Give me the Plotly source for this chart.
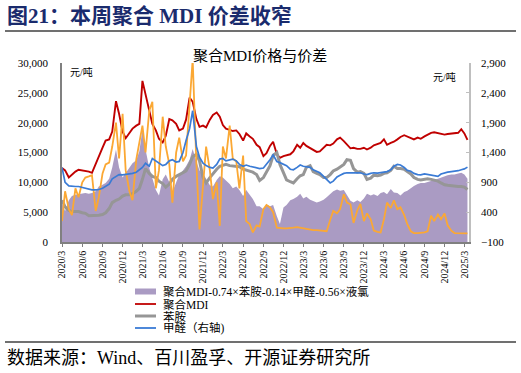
import pandas as pd
import plotly.graph_objects as go

# ---------------- data (semi-monthly readings, 2020-03 .. 2025-03) ----------------
dates = pd.date_range("2020-03-01", periods=122, freq="SMS")

mdi = [12400,12000,10800,11300,11800,12100,12000,11900,11800,11600,
       13200,14200,15800,17000,17200,18500,23600,21500,18500,17400,
       18200,19000,19500,19800,27000,24800,22000,19800,18700,17300,
       16700,17800,20600,20400,19800,18700,19000,20500,24200,23500,
       20600,19300,19500,19200,20500,21300,21700,21000,19600,19000,
       18800,18600,18700,18100,17000,18200,17700,17300,16300,15900,
       14400,14900,16100,16800,14700,14100,14400,14500,14700,15200,
       16300,15800,16600,16100,15700,15500,15100,15200,15900,16300,
       16200,16500,17200,17500,16900,16300,15700,15800,15600,15600,
       15800,15500,15800,16200,16400,16600,17200,16300,16600,16800,
       17200,17600,17900,17700,17500,17200,17500,17300,17700,18000,
       18300,18400,18300,18100,18000,18100,18200,18200,18300,18900,
       18200,17100]

aniline = [7000,5900,5300,5100,5100,5100,4900,4800,4400,4400,
           4400,4500,4600,4900,5600,6600,7000,7200,7700,7900,
           7900,8100,8500,9000,10500,12300,11500,11000,10800,10200,
           9800,9200,9700,10500,11000,11300,11600,11900,13000,14300,
           14700,13600,10800,9900,10800,11500,12200,12700,12900,13000,
           12800,12700,12600,12600,12200,12000,11900,11700,11300,10300,
           10800,11700,12800,14500,15000,13000,11500,10400,10100,9900,
           10600,11100,11300,12500,12800,11800,11500,11300,10800,10800,
           11300,11900,12200,12500,13000,13800,13700,12300,11700,11800,
           11500,10500,10700,11200,11100,11200,11500,11600,12000,12700,
           12300,12300,12200,11800,11400,10800,10500,10400,10500,10600,
           10500,10400,10200,9900,9600,9500,9400,9300,9300,9300,
           9200,8800]

formaldehyde = [1150,900,840,830,830,830,815,805,790,775,
                775,780,800,830,870,960,1000,1030,1025,1030,
                1040,1050,1070,1110,1150,1220,1170,1300,1260,1230,
                1180,1200,1260,1280,1240,1250,1400,1600,1800,2100,
                1500,1320,1220,1180,1150,1140,1200,1290,1300,1260,
                1280,1290,1260,1200,1170,1190,1170,1160,1140,1130,
                1140,1200,1280,1360,1250,1230,1210,1180,1120,1110,
                1150,1190,1170,1160,1150,1110,1090,1060,1000,950,
                890,920,990,1020,1050,1060,1060,1060,1070,1060,
                1040,1030,1050,1060,1055,1060,1070,1080,1110,1170,
                1200,1190,1150,1100,1085,1050,1030,1025,1040,1030,
                1015,1010,1000,1040,1060,1070,1080,1085,1095,1110,
                1125,1155]

chlorine = [250,750,450,350,800,650,900,980,1000,1020,
            420,650,1050,1200,1230,1500,1900,1300,2050,1100,
            750,600,1280,1550,1850,1400,2100,2250,800,1100,
            2000,1500,1200,560,1400,1650,1250,1350,2200,2960,
            1200,110,850,1500,1100,620,900,170,1500,1300,
            1850,1300,1250,800,1350,250,200,60,180,160,
            450,520,480,400,140,130,130,130,130,140,
            150,140,120,110,100,100,100,95,90,80,
            270,420,380,450,700,560,530,220,430,540,
            250,380,280,90,70,60,280,560,470,600,
            450,480,350,200,80,50,50,50,60,80,
            340,250,360,280,380,180,90,50,45,45,
            45,45]

spread = [6500,5200,7000,7700,7900,8000,8100,8200,8100,8200,
          8500,9300,9600,9900,10600,12500,15500,12500,10800,11500,
          12300,13200,13700,15200,18800,15500,12400,10800,8700,7800,
          10500,11300,10000,8400,10000,11300,12000,12700,13800,15600,
          13500,12000,11500,10600,9500,9300,10400,11000,10800,10300,
          9700,9000,9300,8700,7700,8700,8000,7200,6000,6000,
          5500,6300,6000,6200,4300,3000,5800,6200,7000,7200,
          7600,8100,7300,7600,7100,6800,6600,6800,7100,7500,
          8100,8500,8800,8600,8700,7800,6900,6600,7000,6700,
          7300,8100,7800,8000,7700,8200,8400,8000,8900,8300,
          8200,7800,8400,8600,9100,9400,9700,9900,9900,10100,
          10300,10400,10600,10800,11000,11200,11300,11300,11500,11600,
          11300,10600]

tick_dates = ["2020-03-01","2020-06-01","2020-09-01","2020-12-01","2021-03-01",
              "2021-06-01","2021-09-01","2021-12-01","2022-03-01","2022-06-01",
              "2022-09-01","2022-12-01","2023-03-01","2023-06-01","2023-09-01",
              "2023-12-01","2024-03-01","2024-06-01","2024-09-01","2024-12-01",
              "2025-03-01"]
tick_labels = ["2020/3","2020/6","2020/9","2020/12","2021/3","2021/6","2021/9",
               "2021/12","2022/3","2022/6","2022/9","2022/12","2023/3","2023/6",
               "2023/9","2023/12","2024/3","2024/6","2024/9","2024/12","2025/3"]

left_ticks = [0, 5000, 10000, 15000, 20000, 25000, 30000]
right_ticks = [-100, 400, 900, 1400, 1900, 2400, 2900]

legend_names = ["聚合MDI-0.74×苯胺-0.14×甲醛-0.56×液氯", "聚合MDI", "苯胺", "甲醛（右轴)"]

# ---------------- styling ----------------
W, H = 521, 373
L, R, T, B = 62, 469, 63, 242
SERIF = "Liberation Serif, Noto Sans CJK SC, serif"
C_AREA = "#AA9BC3"
C_RED = "#C00000"
C_GREY = "#969696"
C_BLUE = "#3A7BD5"
C_ORANGE = "#FBA834"


def xp(px):
    return (px - L) / (R - L)


def yp(py):
    return (B - py) / (B - T)


fig = go.Figure()
fig.add_trace(go.Scatter(x=dates, y=spread, mode="lines", fill="tozeroy",
                         line=dict(width=0, color=C_AREA), fillcolor=C_AREA,
                         name=legend_names[0], showlegend=False))
fig.add_trace(go.Scatter(x=dates, y=mdi, mode="lines",
                         line=dict(width=1.9, color=C_RED),
                         name=legend_names[1], showlegend=False))
fig.add_trace(go.Scatter(x=dates, y=aniline, mode="lines",
                         line=dict(width=3, color=C_GREY),
                         name=legend_names[2], showlegend=False))
fig.add_trace(go.Scatter(x=dates, y=chlorine, mode="lines", yaxis="y2",
                         line=dict(width=1.8, color=C_ORANGE),
                         name="液氯", showlegend=False))
fig.add_trace(go.Scatter(x=dates, y=formaldehyde, mode="lines", yaxis="y2",
                         line=dict(width=1.7, color=C_BLUE),
                         name=legend_names[3], showlegend=False))

fig.update_layout(
    width=W, height=H,
    margin=dict(l=L, r=W - R, t=T, b=H - B, pad=0, autoexpand=False),
    paper_bgcolor="white", plot_bgcolor="white",
    font=dict(family=SERIF, size=11, color="#000000"),
    xaxis=dict(type="date", range=["2020-03-01", "2025-03-22"], automargin=False,
               tickvals=tick_dates, ticktext=tick_labels, tickangle=-90,
               tickfont=dict(size=10, family=SERIF),
               showgrid=False, zeroline=False, showline=True,
               linecolor="#808080", linewidth=1.5,
               ticks="outside", ticklen=3, tickcolor="#808080"),
    yaxis=dict(range=[0, 30000], tickvals=left_ticks, tickformat=",", automargin=False,
               tickfont=dict(size=11, family=SERIF),
               showgrid=False, zeroline=False, showline=True,
               linecolor="#808080", linewidth=1.5, ticks="",
               ticklabelstandoff=10),
    yaxis2=dict(range=[-100, 2900], tickvals=right_ticks, tickformat=",",
                overlaying="y", side="right", automargin=False,
                tickfont=dict(size=11, family=SERIF),
                showgrid=False, zeroline=False, showline=True,
                linecolor="#BFBFBF", linewidth=1.5,
                ticks="inside", ticklen=3, tickcolor="#BFBFBF",
                ticklabelstandoff=8),
    showlegend=False,
)

ann = []
ann.append(dict(text="<b>图21：本周聚合 MDI 价差收窄</b>", x=xp(5), y=yp(16),
                xanchor="left", yanchor="middle",
                font=dict(size=21, color="#1A2B6D", family=SERIF)))
ann.append(dict(text="聚合MDI价格与价差", x=xp(260), y=yp(56),
                xanchor="center", yanchor="middle",
                font=dict(size=15, color="#000000", family=SERIF)))
ann.append(dict(text="元/吨", x=xp(68), y=yp(72), xanchor="left", yanchor="middle",
                font=dict(size=10, color="#000000", family=SERIF)))
ann.append(dict(text="元/吨", x=xp(458), y=yp(77), xanchor="right", yanchor="middle",
                font=dict(size=10, color="#000000", family=SERIF)))
ann.append(dict(text="数据来源：Wind、百川盈孚、开源证券研究所", x=xp(5), y=yp(358),
                xanchor="left", yanchor="middle",
                font=dict(size=18, color="#000000", family=SERIF)))

shapes = []
shapes.append(dict(type="line", xref="paper", yref="paper", x0=xp(5), x1=xp(516),
                   y0=yp(31), y1=yp(31), line=dict(color="#404040", width=1.5)))
shapes.append(dict(type="line", xref="paper", yref="paper", x0=xp(5), x1=xp(516),
                   y0=yp(342), y1=yp(342), line=dict(color="#404040", width=1.5)))

# manual legend
leg_rows = [291.5, 304, 316, 328]
leg_colors = [C_AREA, C_RED, C_GREY, C_BLUE]
leg_widths = [0, 1.8, 3, 1.8]
for i, (ry, name) in enumerate(zip(leg_rows, legend_names)):
    if i == 0:
        shapes.append(dict(type="rect", xref="paper", yref="paper",
                           x0=xp(135), x1=xp(156), y0=yp(ry - 3), y1=yp(ry + 3),
                           fillcolor=C_AREA, line=dict(width=0)))
    else:
        shapes.append(dict(type="line", xref="paper", yref="paper",
                           x0=xp(135), x1=xp(156), y0=yp(ry), y1=yp(ry),
                           line=dict(color=leg_colors[i], width=leg_widths[i])))
    ann.append(dict(text=name, x=xp(161), y=yp(ry), xanchor="left", yanchor="middle",
                    font=dict(size=11.5, color="#000000", family=SERIF)))

for a in ann:
    a.update(xref="paper", yref="paper", showarrow=False)

fig.update_layout(annotations=ann, shapes=shapes)
fig.write_html("out.html", config={"displayModeBar": False},
               post_script="document.body.style.margin='0';document.body.style.padding='0';"
                           "document.body.style.overflow='hidden';")
